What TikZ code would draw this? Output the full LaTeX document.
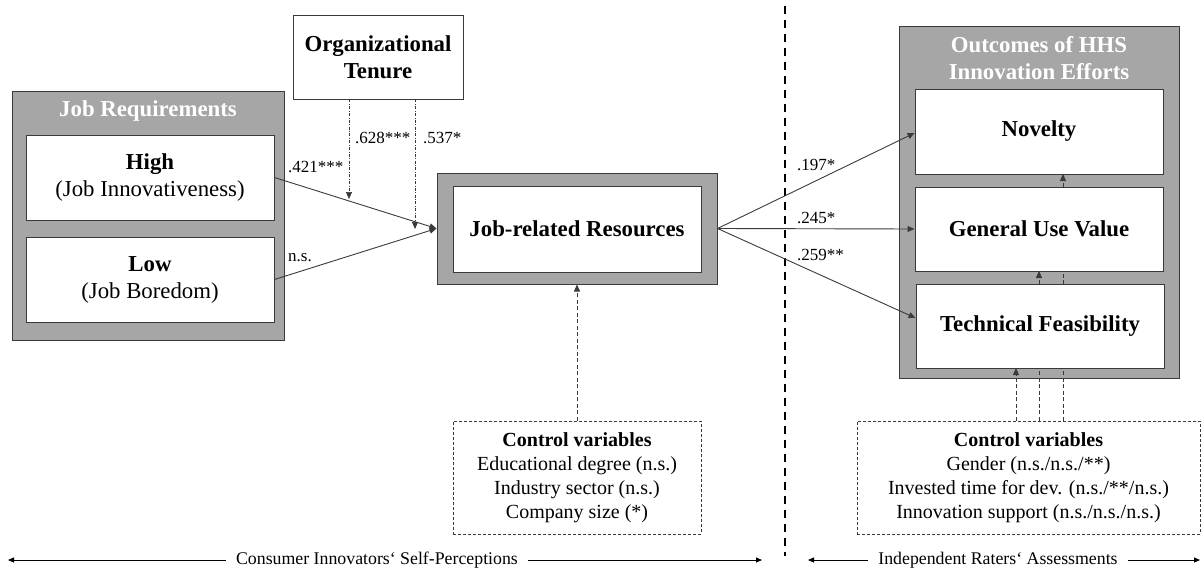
\documentclass[tikz,border=0pt]{standalone}
\usepackage{fontspec}
\setmainfont{Liberation Serif}
\usetikzlibrary{arrows.meta}
\definecolor{framegray}{HTML}{A6A6A6}
\definecolor{edgegray}{HTML}{3A3A3A}
\newcommand\fbig{\fontsize{22.8}{27}\selectfont}
\newcommand\fmid{\fontsize{20}{24}\selectfont}
\newcommand\fsml{\fontsize{17}{20}\selectfont}
\newcommand\fbot{\fontsize{17.8}{20}\selectfont}
\begin{document}
\begin{tikzpicture}[x=1pt,y=-1pt,
  outerbox/.style={draw=edgegray, fill=framegray, line width=1pt, inner sep=0pt},
  innerbox/.style={draw=edgegray, fill=white, line width=0.9pt, inner sep=0pt, align=center, font=\fbig},
  ctrlbox/.style={draw=edgegray, fill=white, line width=0.7pt, dash pattern=on 3pt off 2pt, inner sep=0pt, align=center, font=\fmid},
  titletxt/.style={text=white, font=\fbig\bfseries, align=center, inner sep=0pt},
  lbl/.style={font=\fsml, anchor=west, inner sep=0pt},
  tip/.style={-{Triangle[length=7pt,width=6pt]}},
  path/.style={tip, draw=edgegray, line width=0.9pt},
  moder/.style={tip, draw=edgegray, line width=0.7pt, dash pattern=on 3pt off 1.5pt on 0.8pt off 1.5pt},
  ctrl/.style={tip, draw=edgegray, line width=0.8pt, dash pattern=on 4pt off 2.5pt},
  botarrow/.style={-{Triangle[length=6pt,width=5pt]}, draw=black, line width=0.8pt},
  divider/.style={draw=black, line width=1.8pt, dash pattern=on 8pt off 6pt}]
\useasboundingbox (0,0) rectangle (1202,570);

% divider
\draw[divider] (785,6) -- (785,556);

% left group
\node[outerbox, minimum width=272pt, minimum height=249pt] (jr) at (148,215.5) {};
\node[titletxt] (jrtitle) at (148,111) {Job Requirements};
\node[innerbox, minimum width=248pt, minimum height=85pt] (high) at (150,177.5) {\textbf{High}\\(Job Innovativeness)};
\node[innerbox, minimum width=248pt, minimum height=85pt] (low) at (150,279.5) {\textbf{Low}\\(Job Boredom)};

% organizational tenure
\node[innerbox, minimum width=170pt, minimum height=84pt] (ot) at (378,57) {\textbf{Organizational}\\\textbf{Tenure}};

% job-related resources
\node[outerbox, minimum width=280pt, minimum height=111pt] (jrrO) at (577,228.5) {};
\node[innerbox, minimum width=248pt, minimum height=86pt] (jrr) at (577,229) {\textbf{Job-related Resources}};

% outcomes group
\node[outerbox, minimum width=280pt, minimum height=352pt] (out) at (1039,202) {};
\node[titletxt] (outtitle) at (1039,58.5) {Outcomes of HHS\\Innovation Efforts};

% control boxes
\node[ctrlbox, minimum width=248pt, minimum height=113pt, baseline=0pt] (cv1) at (577,477.5) {\textbf{Control variables}\\Educational degree (n.s.)\\Industry sector (n.s.)\\Company size (*)};
\node[ctrlbox, minimum width=343pt, minimum height=113pt] (cv2) at (1028.5,477.5) {\textbf{Control variables}\\Gender (n.s./n.s./**)\\Invested time for dev. (n.s./**/n.s.)\\Innovation support (n.s./n.s./n.s.)};

% control lines to outcomes (drawn before inner boxes)
\draw[ctrl] ([xshift=-12.5pt]cv2.north) -- ([xshift=-12.5pt]cv2.north |- 0,368);
\draw[ctrl] ([xshift=10.5pt]cv2.north) -- ([xshift=10.5pt]cv2.north |- 0,271);
\draw[ctrl] ([xshift=34.5pt]cv2.north) -- ([xshift=34.5pt]cv2.north |- 0,174);

\node[innerbox, minimum width=248pt, minimum height=85pt] (nov) at (1039,131.5) {\textbf{Novelty}};
\node[innerbox, minimum width=248pt, minimum height=84pt] (guv) at (1039,229) {\textbf{General Use Value}};
\node[innerbox, minimum width=248pt, minimum height=84pt] (tf) at (1040,326) {\textbf{Technical Feasibility}};

% main paths
\coordinate (t1) at (349,199);
\coordinate (t2) at (415,229);
\draw[path] (high.east) -- (jrrO.west);
\draw[path] (low.east) -- (jrrO.west);
\draw[moder] (t1 |- ot.south) -- (t1);
\draw[moder] (t2 |- ot.south) -- (t2);
\draw[ctrl] (cv1.north) -- (jrrO.south);

\draw[path] (jrrO.east) -- ([yshift=-1.5pt]nov.west);
\draw[path] (jrrO.east) -- (guv.west);
\draw[path] (jrrO.east) -- ([yshift=8pt]tf.west);

% labels
\node[lbl] (l421) at (288,167) {.421***};
\node[lbl] (lns) at (288,258) {n.s.};
\node[lbl] (l628) at (355,138) {.628***};
\node[lbl] (l537) at (423,138) {.537*};
\node[lbl] (l197) at (797,165) {.197*};
\node[lbl] (l245) at (797,218) {.245*};
\node[lbl] (l259) at (797,255) {.259**};

% bottom scale
\node[font=\fbot, inner sep=0pt] (ci) at (377,560) {Consumer Innovators‘ Self-Perceptions};
\node[font=\fbot, inner sep=0pt] (ir) at (998,560) {Independent Raters‘ Assessments};
\coordinate (ciL) at (8,560);
\coordinate (ciR) at (762,560);
\coordinate (irL) at (808,560);
\coordinate (irR) at (1200,560);
\draw[botarrow] ([xshift=-10pt]ci.west) -- (ciL);
\draw[botarrow] ([xshift=10pt]ci.east) -- (ciR);
\draw[botarrow] ([xshift=-10pt]ir.west) -- (irL);
\draw[botarrow] ([xshift=10pt]ir.east) -- (irR);
\end{tikzpicture}
\end{document}
